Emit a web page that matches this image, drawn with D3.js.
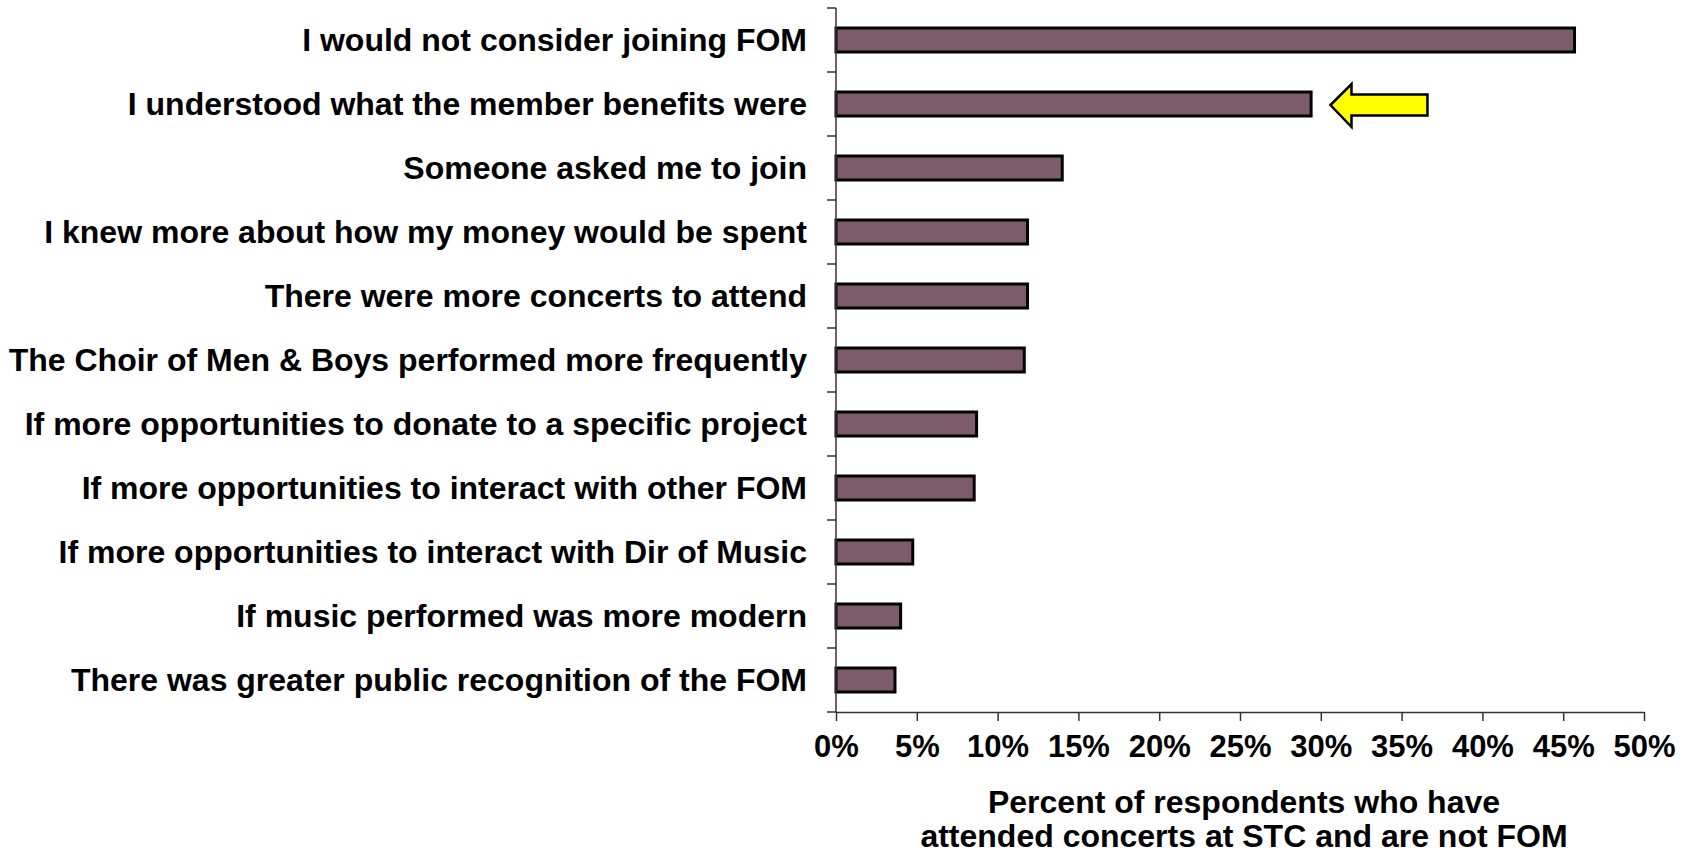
<!DOCTYPE html>
<html>
<head>
<meta charset="utf-8">
<script src="https://cdn.jsdelivr.net/npm/d3@7"></script>
<style>
  html, body { margin: 0; padding: 0; background: #fff; }
  svg { display: block; }
  text { font-family: "Liberation Sans", Arial, sans-serif; font-weight: bold; fill: #000; }
</style>
</head>
<body>
<svg id="chart" width="1694" height="854"></svg>
<script>
const categories = [
  "I would not consider joining FOM",
  "I understood what the member benefits were",
  "Someone asked me to join",
  "I knew more about how my money would be spent",
  "There were more concerts to attend",
  "The Choir of Men & Boys performed more frequently",
  "If more opportunities to donate to a specific project",
  "If more opportunities to interact with other FOM",
  "If more opportunities to interact with Dir of Music",
  "If music performed was more modern",
  "There was greater public recognition of the FOM"
];
const values = [45.7, 29.4, 14.0, 11.85, 11.85, 11.65, 8.7, 8.55, 4.75, 4.0, 3.65];
const xTicks = [0, 5, 10, 15, 20, 25, 30, 35, 40, 45, 50];
const xTickLabels = ["0%", "5%", "10%", "15%", "20%", "25%", "30%", "35%", "40%", "45%", "50%"];
const axisTitle = ["Percent of respondents who have", "attended concerts at STC and are not FOM"];
// highlight arrow annotation (category it points at, and x extent in %)
const arrowCategory = "I understood what the member benefits were";
const arrowFromTo = [30.6, 36.6];

const svg = d3.select("#chart");
const mLeft = 836, mRight = 1644, mTop = 8, mBottom = 712;

const x = d3.scaleLinear().domain([0, 50]).range([mLeft, mRight]);
const yb = d3.scaleBand().domain(categories).range([mTop, mBottom]);

// Bars
svg.append("g").selectAll("rect").data(values).join("rect")
  .attr("x", x(0))
  .attr("y", (d, i) => yb(categories[i]) + yb.bandwidth() / 2 - 12)
  .attr("width", d => x(d) - x(0))
  .attr("height", 24)
  .attr("fill", "#7E5B6B")
  .attr("stroke", "#000")
  .attr("stroke-width", 3);

// Y axis: ticks at band boundaries
const yAxisG = svg.append("g");
yAxisG.append("line").attr("x1", mLeft).attr("x2", mLeft).attr("y1", mTop).attr("y2", mBottom)
  .attr("stroke", "#333").attr("stroke-width", 1.5);
const boundaries = categories.map(c => yb(c)).concat([mBottom]);
yAxisG.selectAll("line.tick").data(boundaries).join("line").attr("class", "tick")
  .attr("x1", mLeft - 9).attr("x2", mLeft).attr("y1", d => d).attr("y2", d => d)
  .attr("stroke", "#333").attr("stroke-width", 1.5);

// Category labels
svg.append("g").selectAll("text").data(categories).join("text")
  .attr("x", 807)
  .attr("y", d => yb(d) + yb.bandwidth() / 2)
  .attr("dy", "0.35em")
  .attr("text-anchor", "end")
  .attr("font-size", 32)
  .text(d => d);

// X axis
const xAxis = d3.axisBottom(x).tickValues(xTicks).tickSize(9).tickSizeOuter(0)
  .tickFormat((d, i) => xTickLabels[i]).tickPadding(14);
const xg = svg.append("g").attr("transform", `translate(0,${mBottom})`).call(xAxis);
xg.select(".domain").attr("stroke", "#333").attr("stroke-width", 1.5);
xg.selectAll(".tick line").attr("stroke", "#333").attr("stroke-width", 1.5);
xg.selectAll(".tick text")
  .attr("font-family", "'Liberation Sans', Arial, sans-serif")
  .attr("font-weight", "bold").attr("font-size", 31).attr("fill", "#000")
  .attr("dy", "0.71em");

// Axis title
const titleX = (mLeft + mRight) / 2 + 4;
svg.append("text").attr("x", titleX).attr("y", 813).attr("text-anchor", "middle")
  .attr("font-size", 32).text(axisTitle[0]);
svg.append("text").attr("x", titleX).attr("y", 847).attr("text-anchor", "middle")
  .attr("font-size", 32).text(axisTitle[1]);

// Arrow annotation
const cy = yb(arrowCategory) + yb.bandwidth() / 2 + 1;
const tipX = x(arrowFromTo[0]), endX = x(arrowFromTo[1]);
const headX = tipX + 21;
const pts = [
  [tipX, cy], [headX, cy - 21], [headX, cy - 10.5], [endX, cy - 10.5],
  [endX, cy + 10.5], [headX, cy + 10.5], [headX, cy + 22]
];
svg.append("path").attr("d", d3.line()(pts) + "Z")
  .attr("fill", "#FFFF00").attr("stroke", "#000").attr("stroke-width", 2.5)
  .attr("stroke-linejoin", "miter");
</script>
</body>
</html>
